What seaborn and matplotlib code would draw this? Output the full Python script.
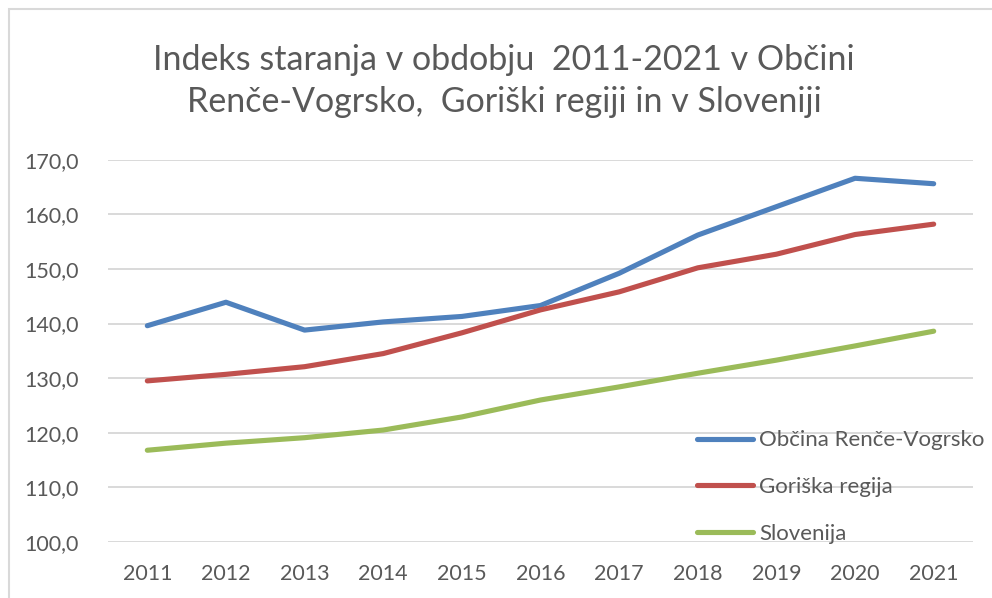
import matplotlib
matplotlib.use("Agg")
import matplotlib.pyplot as plt
import seaborn as sns
import pandas as pd
from matplotlib.patches import Rectangle
from matplotlib.ticker import FuncFormatter

years = [2011, 2012, 2013, 2014, 2015, 2016, 2017, 2018, 2019, 2020, 2021]
rence_vogrsko = [139.6, 143.9, 138.8, 140.3, 141.3, 143.3, 149.2, 156.2, 161.4, 166.6, 165.6]
goriska = [129.5, 130.7, 132.1, 134.5, 138.3, 142.5, 145.8, 150.2, 152.7, 156.3, 158.2]
slovenija = [116.8, 118.1, 119.1, 120.5, 122.9, 126.0, 128.4, 130.9, 133.3, 135.9, 138.6]
series_names = ["Občina Renče-Vogrsko", "Goriška regija", "Slovenija"]
colors = ["#4F81BD", "#C0504D", "#9BBB59"]
title = "Indeks staranja v obdobju  2011-2021 v Občini\nRenče-Vogrsko,  Goriški regiji in v Sloveniji"

df = pd.DataFrame({
    "year": years * 3,
    "value": rence_vogrsko + goriska + slovenija,
    "series": [series_names[0]] * 11 + [series_names[1]] * 11 + [series_names[2]] * 11,
})

sns.set_style("white")
plt.rcParams["font.family"] = ["Lato", "DejaVu Sans"]

fig = plt.figure(figsize=(9.92, 5.98), dpi=100)
W, H = 992, 598
ax = fig.add_axes([108 / W, 1 - 542 / H, (973 - 108) / W, (542 - 159.7) / H])

sns.lineplot(data=df, x="year", y="value", hue="series", hue_order=series_names,
             palette=colors, linewidth=3.7, ax=ax, legend=True, zorder=3)
for ln in ax.lines:
    ln.set_solid_capstyle("round")
    ln.set_solid_joinstyle("round")

ax.set_xlim(2010.5, 2021.5)
ax.set_ylim(100, 170)
ax.set_xticks(years)
ax.set_xticklabels([str(y) for y in years])
ax.set_yticks(range(100, 171, 10))
ax.yaxis.set_major_formatter(FuncFormatter(lambda v, p: f"{v:.1f}".replace(".", ",")))
ax.set_xlabel("")
ax.set_ylabel("")
ax.grid(axis="y", color="#D9D9D9", linewidth=1.4, zorder=0)
ax.grid(axis="x", visible=False)
for s in ax.spines.values():
    s.set_visible(False)
ax.tick_params(axis="both", length=0, labelsize=15.5, labelcolor="#595959")
ax.tick_params(axis="y", pad=21)
ax.tick_params(axis="x", pad=16)

handles, labels = ax.get_legend_handles_labels()
leg = ax.legend(handles, labels, loc="upper left", bbox_to_anchor=(0.681, 0.292),
                frameon=False, fontsize=16, handlelength=2.5, handletextpad=0.28,
                labelspacing=1.2, borderpad=0, borderaxespad=0)
for t in leg.get_texts():
    t.set_color("#595959")
for h in leg.get_lines():
    h.set_linewidth(3.7)
    h.set_solid_capstyle("round")

fig.text(504 / W, 1 - 81 / H, title, ha="center", va="center", fontsize=24.5,
         color="#595959", linespacing=1.4)

fig.patches.append(Rectangle((9 / W, -0.1), 1.2, 1 - 9 / H + 0.1, transform=fig.transFigure,
                             fill=False, edgecolor="#D9D9D9", linewidth=1.5))

fig.savefig("out.png", dpi=100)
